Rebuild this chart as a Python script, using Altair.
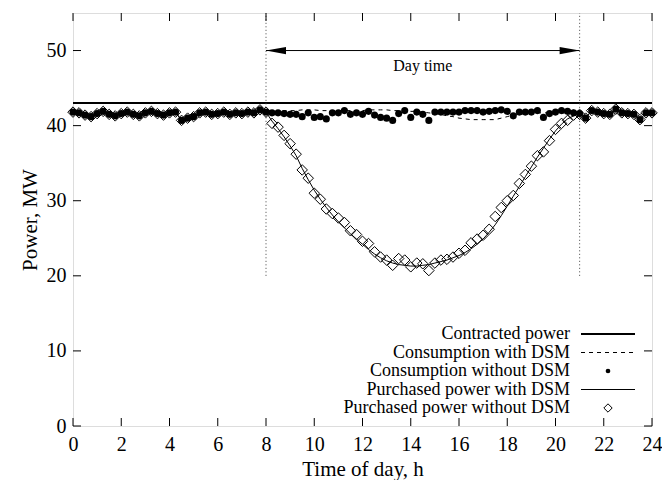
import altair as alt
import pandas as pd

F = "Liberation Serif"

# ---- data ----
hours = [i * 0.25 for i in range(97)]

# night values (identical for all series, 0:00-8:00 and 21:15-24:00)
night_am = [41.8, 41.7, 41.4, 41.2, 41.6, 41.9, 41.5, 41.3, 41.6, 41.8, 41.5,
            41.3, 41.7, 41.9, 41.6, 41.4, 41.7, 41.8, 40.7, 41.0, 41.2, 41.7,
            41.8, 41.5, 41.6, 41.8, 41.5, 41.7, 41.6, 41.8, 41.7, 42.1, 41.8]
night_pm = [41.0, 42.0, 41.8, 41.6, 41.5, 42.2, 41.7, 41.6, 41.5, 40.8, 41.7, 41.7]

# day values 8:15 - 21:00
consumption_no_dsm_day = [41.7, 41.7, 41.6, 41.5, 41.5, 41.2, 41.7, 41.1, 41.2, 40.9,
                          41.7, 41.7, 42.0, 41.5, 41.7, 41.5, 41.9, 41.4, 41.1, 41.0,
                          40.7, 41.6, 42.0, 41.1, 41.8, 41.5, 40.7, 41.8, 41.8, 41.8,
                          41.8, 41.8, 42.0, 42.0, 42.0, 41.8, 41.9, 42.0, 42.1, 41.9,
                          41.3, 41.8, 41.8, 41.8, 42.0, 41.1, 41.6, 41.8, 42.0, 41.9,
                          41.7, 41.6]
consumption_dsm_day = [41.8, 41.9, 42.0, 42.0, 42.0, 42.1, 42.1, 42.1, 42.0, 42.0,
                       42.0, 42.0, 42.0, 42.0, 42.0, 42.0, 42.1, 42.1, 42.1, 42.1,
                       42.0, 42.0, 42.0, 41.9, 41.9, 41.8, 41.7, 41.6, 41.5, 41.3,
                       41.2, 41.0, 40.9, 40.8, 40.8, 40.8, 40.8, 40.8, 41.0, 41.2,
                       41.4, 41.5, 41.6, 41.7, 41.7, 41.7, 41.7, 41.7, 41.7, 41.7,
                       41.7, 41.6]
purchased_no_dsm_day = [40.3, 39.8, 38.7, 37.6, 36.2, 34.1, 33.0, 31.0, 30.2, 28.9,
                        28.3, 27.7, 27.1, 26.0, 25.5, 24.6, 24.3, 23.2, 22.5, 22.1,
                        21.4, 22.3, 22.1, 21.2, 21.7, 21.6, 20.7, 21.7, 22.1, 22.2,
                        22.5, 23.0, 23.4, 24.4, 24.9, 25.4, 26.2, 27.9, 29.1, 30.0,
                        30.7, 32.3, 33.5, 34.6, 36.0, 36.5, 38.0, 39.5, 40.3, 40.7,
                        41.4, 41.5]
purchased_dsm_day = [40.6, 39.6, 38.5, 37.3, 36.0, 34.3, 32.8, 31.4, 30.2, 29.1,
                     28.1, 27.2, 26.4, 25.6, 24.9, 24.2, 23.5, 22.9, 22.4, 22.0,
                     21.7, 21.5, 21.4, 21.3, 21.3, 21.4, 21.5, 21.7, 21.9, 22.1,
                     22.4, 22.7, 23.1, 23.6, 24.2, 24.9, 25.8, 26.8, 28.0, 29.3,
                     30.6, 31.9, 33.2, 34.5, 35.8, 37.0, 38.2, 39.3, 40.2, 40.9,
                     41.3, 41.6]

contracted_power = [43]
day_bounds = [8, 21]
day_bounds_bottom = 20
arrow_y = 50
annotation = ["Day time"]
annotation_pos = (14.5, 48)
y_ticks = [0, 10, 20, 30, 40, 50]
x_ticks = list(range(0, 25, 2))
legend_labels = ["Contracted power", "Consumption with DSM", "Consumption without DSM",
                 "Purchased power with DSM", "Purchased power without DSM"]

cons_no = night_am + consumption_no_dsm_day + night_pm
cons_dsm = night_am + consumption_dsm_day + night_pm
purch_no = night_am + purchased_no_dsm_day + night_pm
purch_dsm = night_am + purchased_dsm_day + night_pm

df = pd.DataFrame({"t": hours, "cons_no": cons_no, "cons_dsm": cons_dsm,
                   "purch_no": purch_no, "purch_dsm": purch_dsm})

W, H = 579, 413
xs = alt.Scale(domain=[0, 24], nice=False, zero=False)
ys = alt.Scale(domain=[0, 55], nice=False)

x_axis = alt.Axis(values=x_ticks, ticks=False, domain=False, grid=False, labelFlush=False,
                  labelFont=F, labelFontSize=20, labelColor="black", labelPadding=8,
                  title="Time of day, h", titleFont=F, titleFontSize=21,
                  titleFontWeight="normal", titleColor="black", titlePadding=4)
y_axis = alt.Axis(values=y_ticks, ticks=False, domain=False, grid=False, labelFlush=False,
                  labelFont=F, labelFontSize=20, labelColor="black", labelPadding=7,
                  title="Power, MW", titleFont=F, titleFontSize=21,
                  titleFontWeight="normal", titleColor="black", titlePadding=6)

X = lambda f: alt.X(f, type="quantitative", scale=xs, axis=x_axis)
Y = lambda f: alt.Y(f, type="quantitative", scale=ys, axis=y_axis)

base = alt.Chart(df)

contract = alt.Chart(pd.DataFrame({"p": contracted_power})).mark_rule(
    color="black", strokeWidth=2).encode(y=Y("p"), x=alt.value(0), x2=alt.value(W))

bounds = alt.Chart(pd.DataFrame({"b": day_bounds, "lo": [day_bounds_bottom] * 2,
                                 "hi": [55] * 2})).mark_rule(
    color="#444", strokeWidth=1, strokeDash=[1, 2.5]).encode(x=X("b"), y=Y("lo"), y2="hi")

dashed = base.mark_line(color="black", strokeWidth=1, strokeDash=[4, 4]).encode(
    x=X("t"), y=Y("cons_dsm"))
solid = base.mark_line(color="black", strokeWidth=1).encode(x=X("t"), y=Y("purch_dsm"))
diamonds = base.mark_point(shape="diamond", size=110, filled=False, color="black",
                           strokeWidth=1, opacity=1).encode(x=X("t"), y=Y("purch_no"))
dots = base.mark_point(shape="circle", size=50, filled=True, color="black",
                       opacity=1).encode(x=X("t"), y=Y("cons_no"))

adf = pd.DataFrame({"a": [day_bounds[0]], "b": [day_bounds[1]], "y": [arrow_y]})
arrow = alt.Chart(adf).mark_rule(color="black", strokeWidth=1).encode(
    x=X("a"), x2="b", y=Y("y"))
head_l = alt.Chart(adf).mark_point(shape="M0,0L2,-0.36L2,0.36Z", size=400, filled=True,
                                   color="black", opacity=1).encode(x=X("a"), y=Y("y"))
head_r = alt.Chart(adf).mark_point(shape="M0,0L-2,-0.36L-2,0.36Z", size=400, filled=True,
                                   color="black", opacity=1).encode(x=X("b"), y=Y("y"))
label = alt.Chart(pd.DataFrame({"x": [annotation_pos[0]], "y": [annotation_pos[1]],
                                "s": annotation})).mark_text(
    font=F, fontSize=16, color="black").encode(x=X("x"), y=Y("y"), text="s:N")

# ticks (inward, mirrored)
ytdf = pd.DataFrame({"v": y_ticks})
xtdf = pd.DataFrame({"v": x_ticks})
tk = 8
yt_l = alt.Chart(ytdf).mark_rule(color="black").encode(y=Y("v"), x=alt.value(0), x2=alt.value(tk))
yt_r = alt.Chart(ytdf).mark_rule(color="black").encode(y=Y("v"), x=alt.value(W - tk), x2=alt.value(W))
xt_b = alt.Chart(xtdf).mark_rule(color="black").encode(x=X("v"), y=alt.value(H), y2=alt.value(H - tk))
xt_t = alt.Chart(xtdf).mark_rule(color="black").encode(x=X("v"), y=alt.value(0), y2=alt.value(tk))

# legend
one = pd.DataFrame({"k": [0]})
ly0, ldy = 321, 18.5
lx_text, lx0, lx1 = 497, 508, 562
lx_mid = (lx0 + lx1) / 2
legend_layers = []
for i, name in enumerate(legend_labels):
    yy = ly0 + ldy * i
    legend_layers.append(alt.Chart(pd.DataFrame({"s": [name]})).mark_text(
        font=F, fontSize=18, color="black", align="right", baseline="middle").encode(
        text="s:N", x=alt.value(lx_text), y=alt.value(yy)))
legend_layers.append(alt.Chart(one).mark_rule(color="black", strokeWidth=2).encode(
    x=alt.value(lx0), x2=alt.value(lx1), y=alt.value(ly0)))
legend_layers.append(alt.Chart(one).mark_rule(color="black", strokeWidth=1, strokeDash=[4, 4]).encode(
    x=alt.value(lx0), x2=alt.value(lx1), y=alt.value(ly0 + ldy)))
legend_layers.append(alt.Chart(one).mark_point(shape="circle", size=22, filled=True, color="black",
                                               opacity=1).encode(
    x=alt.value(lx_mid), y=alt.value(ly0 + 2 * ldy)))
legend_layers.append(alt.Chart(one).mark_rule(color="black", strokeWidth=1).encode(
    x=alt.value(lx0), x2=alt.value(lx1), y=alt.value(ly0 + 3 * ldy)))
legend_layers.append(alt.Chart(one).mark_point(shape="diamond", size=70, filled=False, color="black",
                                               strokeWidth=1, opacity=1).encode(
    x=alt.value(lx_mid), y=alt.value(ly0 + 4 * ldy)))

chart = alt.layer(
    contract, bounds, dashed, solid, diamonds, dots, arrow, head_l, head_r, label,
    yt_l, yt_r, xt_b, xt_t, *legend_layers
).properties(
    width=W, height=H,
    autosize=alt.AutoSizeParams(type="none"),
    padding={"left": 65, "top": 5, "right": 10, "bottom": 54},
).configure_view(stroke="black", strokeWidth=1).configure(background="white")

chart.save("out.html", embed_options={"renderer": "svg", "actions": False})
